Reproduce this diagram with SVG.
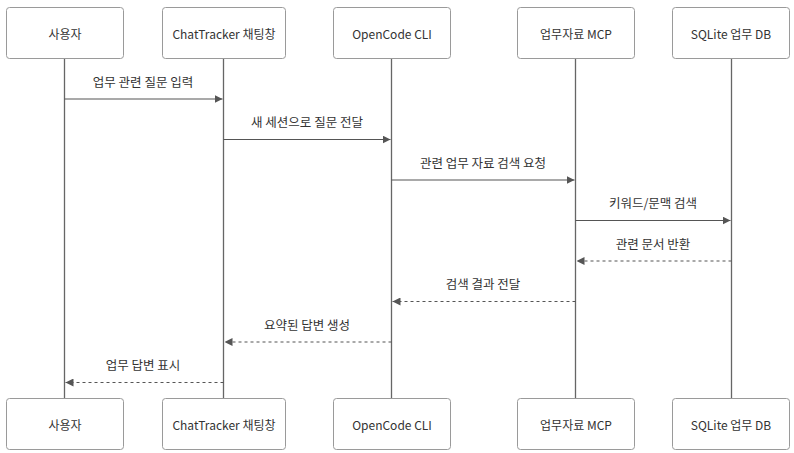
<svg xmlns="http://www.w3.org/2000/svg" width="794" height="453" viewBox="0 0 794 453">
  <style>
    .actor rect { fill: #ffffff; stroke: #9a9a9a; stroke-width: 1; }
    .actor text { font-family: "Noto Sans CJK KR", "Liberation Sans", sans-serif; font-size: 12px; fill: #333333; text-anchor: middle; dominant-baseline: central; }
    .life { stroke: #666666; stroke-width: 1.3; }
    .msg { stroke: #555555; stroke-width: 1.2; fill: none; }
    .reply { stroke-dasharray: 3 3; }
    .label { font-family: "Noto Sans CJK KR", "Liberation Sans", sans-serif; font-size: 12.5px; fill: #333333; text-anchor: middle; dominant-baseline: central; }
  </style>
  <defs>
    <marker id="head" viewBox="0 0 10 10" refX="10" refY="5" markerWidth="8" markerHeight="8" markerUnits="userSpaceOnUse" orient="auto">
      <path d="M0,0 L10,5 L0,10 Z" fill="#555555"/>
    </marker>
  </defs>
  <rect width="794" height="453" fill="#ffffff"/>

  <!-- lifelines -->
  <g id="lifelines">
    <line class="life" x1="64.5" y1="58" x2="64.5" y2="398"/>
    <line class="life" x1="223.5" y1="58" x2="223.5" y2="398"/>
    <line class="life" x1="391.5" y1="58" x2="391.5" y2="398"/>
    <line class="life" x1="575.5" y1="58" x2="575.5" y2="398"/>
    <line class="life" x1="731.5" y1="58" x2="731.5" y2="398"/>
  </g>

  <!-- participants, top row -->
  <g id="user-top" class="actor"><rect x="6.5" y="7.5" width="117" height="51" rx="3"/><text x="65" y="33">사용자</text></g>
  <g id="chat-top" class="actor"><rect x="162.5" y="7.5" width="123" height="51" rx="3"/><text x="224" y="33">ChatTracker 채팅창</text></g>
  <g id="cli-top" class="actor"><rect x="333.5" y="7.5" width="117" height="51" rx="3"/><text x="392" y="33">OpenCode CLI</text></g>
  <g id="mcp-top" class="actor"><rect x="517.5" y="7.5" width="117" height="51" rx="3"/><text x="576" y="33">업무자료 MCP</text></g>
  <g id="db-top" class="actor"><rect x="672.5" y="7.5" width="117" height="51" rx="3"/><text x="731" y="33">SQLite 업무 DB</text></g>

  <!-- participants, bottom row -->
  <g id="user-bottom" class="actor"><rect x="6.5" y="398.5" width="117" height="51" rx="3"/><text x="65" y="424">사용자</text></g>
  <g id="chat-bottom" class="actor"><rect x="162.5" y="398.5" width="123" height="51" rx="3"/><text x="224" y="424">ChatTracker 채팅창</text></g>
  <g id="cli-bottom" class="actor"><rect x="333.5" y="398.5" width="117" height="51" rx="3"/><text x="392" y="424">OpenCode CLI</text></g>
  <g id="mcp-bottom" class="actor"><rect x="517.5" y="398.5" width="117" height="51" rx="3"/><text x="576" y="424">업무자료 MCP</text></g>
  <g id="db-bottom" class="actor"><rect x="672.5" y="398.5" width="117" height="51" rx="3"/><text x="731" y="424">SQLite 업무 DB</text></g>

  <!-- messages -->
  <g id="messages">
    <line class="msg" x1="64.5" y1="99" x2="222.5" y2="99" marker-end="url(#head)"/>
    <text class="label" x="143" y="81">업무 관련 질문 입력</text>

    <line class="msg" x1="223.5" y1="139.5" x2="390.5" y2="139.5" marker-end="url(#head)"/>
    <text class="label" x="307" y="121.5">새 세션으로 질문 전달</text>

    <line class="msg" x1="391.5" y1="180" x2="574.5" y2="180" marker-end="url(#head)"/>
    <text class="label" x="483" y="162">관련 업무 자료 검색 요청</text>

    <line class="msg" x1="575.5" y1="220.5" x2="730.5" y2="220.5" marker-end="url(#head)"/>
    <text class="label" x="653" y="202.5">키워드/문맥 검색</text>

    <line class="msg reply" x1="731.5" y1="261" x2="576.5" y2="261" marker-end="url(#head)"/>
    <text class="label" x="653" y="243">관련 문서 반환</text>

    <line class="msg reply" x1="575.5" y1="301.5" x2="392.5" y2="301.5" marker-end="url(#head)"/>
    <text class="label" x="483" y="283.5">검색 결과 전달</text>

    <line class="msg reply" x1="391.5" y1="342" x2="224.5" y2="342" marker-end="url(#head)"/>
    <text class="label" x="307" y="324">요약된 답변 생성</text>

    <line class="msg reply" x1="223.5" y1="382.5" x2="65.5" y2="382.5" marker-end="url(#head)"/>
    <text class="label" x="143" y="364.5">업무 답변 표시</text>
  </g>
</svg>
